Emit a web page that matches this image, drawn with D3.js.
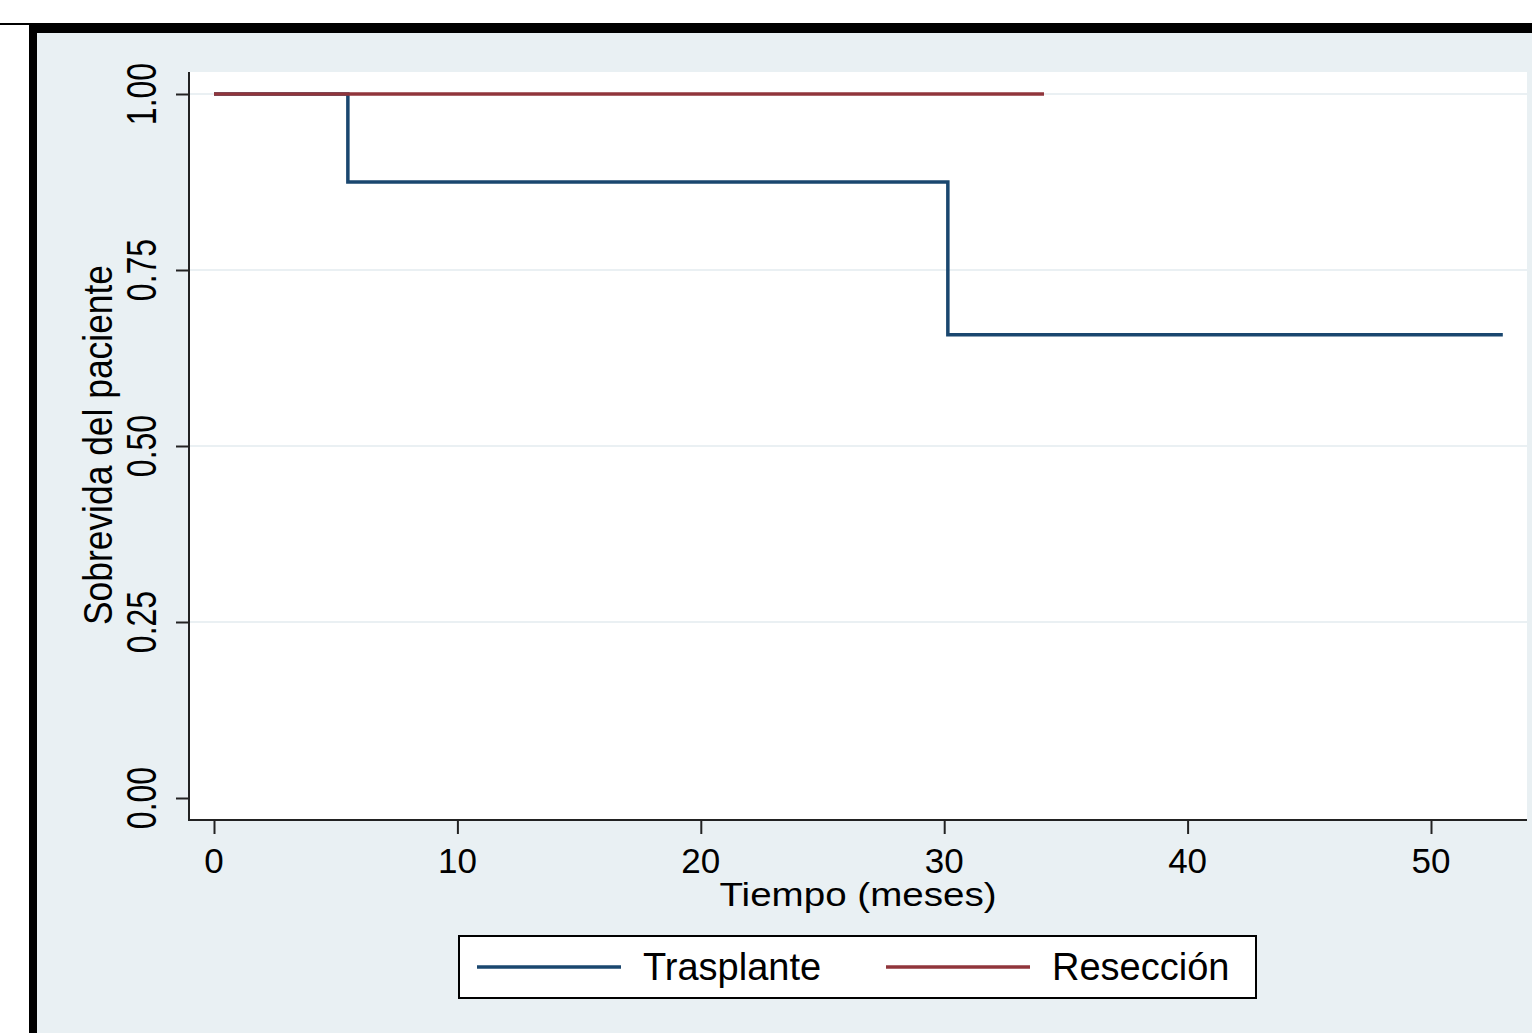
<!DOCTYPE html>
<html>
<head>
<meta charset="utf-8">
<script src="https://cdn.jsdelivr.net/npm/d3@7.9.0/dist/d3.min.js"></script>
<style>
  body { margin: 0; background: #fff; }
  svg text { font-family: "Liberation Sans", Arial, sans-serif; fill: #000; }
</style>
</head>
<body>
<div id="chart"></div>
<script>
// Kaplan-Meier steps
const trasplanteTime = [0, 5.5, 30.15, 52.95];
const trasplanteSurv = [1, 0.875, 0.658, 0.658];
const reseccionTime = [0, 34.1];
const reseccionSurv = [1, 1];

const xTicks = [0, 10, 20, 30, 40, 50];
const yTicks = [0, 0.25, 0.5, 0.75, 1];
const yTickLabels = ["0.00", "0.25", "0.50", "0.75", "1.00"];
const seriesNames = ["Trasplante", "Resección"];
const seriesColors = ["#1a476f", "#90353b"];

const width = 1532, height = 1033;
const plot = { left: 189, right: 1527, top: 72, bottom: 820 };

const x = d3.scaleLinear().domain([0, 50]).range([214, 1431]);
const y = d3.scaleLinear().domain([0, 1]).range([798, 94]);

const svg = d3.select("#chart").append("svg")
  .attr("width", width)
  .attr("height", height);

// outer frame
svg.append("rect").attr("x", 0).attr("y", 0).attr("width", width).attr("height", height).attr("fill", "#fff");
svg.append("rect").attr("x", 0).attr("y", 23).attr("width", width).attr("height", 2).attr("fill", "#000");
svg.append("rect").attr("x", 29).attr("y", 25).attr("width", width - 29).attr("height", height - 25).attr("fill", "#000");
svg.append("rect").attr("x", 37).attr("y", 33).attr("width", width - 37).attr("height", height - 33).attr("fill", "#e9f0f3");

// plot region
svg.append("rect")
  .attr("x", plot.left).attr("y", plot.top)
  .attr("width", plot.right - plot.left).attr("height", plot.bottom - plot.top)
  .attr("fill", "#fff");

// gridlines
svg.append("g").selectAll("line")
  .data(yTicks.filter(d => d > 0))
  .join("line")
  .attr("x1", plot.left).attr("x2", plot.right)
  .attr("y1", d => y(d)).attr("y2", d => y(d))
  .attr("stroke", "#eaf0f3")
  .attr("stroke-width", 2);

// axes
const yAxis = svg.append("g")
  .attr("transform", `translate(${plot.left},0)`)
  .call(d3.axisLeft(y).tickValues(yTicks).tickSize(13).tickFormat(""));
const xAxis = svg.append("g")
  .attr("transform", `translate(0,${plot.bottom})`)
  .call(d3.axisBottom(x).tickValues(xTicks).tickSize(14).tickFormat(""));
[yAxis, xAxis].forEach(a => {
  a.select(".domain").remove();
  a.selectAll(".tick line").attr("stroke", "#222").attr("stroke-width", 2);
});
svg.append("line")
  .attr("x1", plot.left).attr("x2", plot.left)
  .attr("y1", plot.top).attr("y2", plot.bottom + 1)
  .attr("stroke", "#222").attr("stroke-width", 2);
svg.append("line")
  .attr("x1", plot.left).attr("x2", plot.right)
  .attr("y1", plot.bottom).attr("y2", plot.bottom)
  .attr("stroke", "#222").attr("stroke-width", 2);

// tick labels
svg.append("g").selectAll("text")
  .data(xTicks)
  .join("text")
  .attr("x", d => x(d))
  .attr("y", 873)
  .attr("text-anchor", "middle")
  .style("font-size", "35px")
  .text(d => d);

svg.append("g").selectAll("text")
  .data(yTicks)
  .join("text")
  .attr("transform", d => `translate(156,${y(d)}) scale(1.3,1) rotate(-90)`)
  .attr("text-anchor", "middle")
  .style("font-size", "32px")
  .text((d, i) => yTickLabels[i]);

// axis titles
svg.append("text")
  .attr("x", 858).attr("y", 906)
  .attr("text-anchor", "middle")
  .attr("textLength", 277)
  .attr("lengthAdjust", "spacingAndGlyphs")
  .style("font-size", "33px")
  .text("Tiempo (meses)");

svg.append("text")
  .attr("transform", `translate(112,${(plot.top + plot.bottom) / 2 - 1}) scale(1.15,1) rotate(-90)`)
  .attr("text-anchor", "middle")
  .attr("textLength", 360)
  .attr("lengthAdjust", "spacingAndGlyphs")
  .style("font-size", "35px")
  .text("Sobrevida del paciente");

// survival curves
const line = d3.line()
  .x(d => x(d[0]))
  .y(d => y(d[1]))
  .curve(d3.curveStepAfter);

const series = [
  d3.zip(trasplanteTime, trasplanteSurv),
  d3.zip(reseccionTime, reseccionSurv)
];

// Trasplante first, Resección drawn on top where they overlap
[0, 1].forEach(i => {
  svg.append("path")
    .datum(series[i])
    .attr("d", line)
    .attr("fill", "none")
    .attr("stroke", seriesColors[i])
    .attr("stroke-width", 3.5);
});

// legend
svg.append("rect")
  .attr("x", 459).attr("y", 936)
  .attr("width", 797).attr("height", 62)
  .attr("fill", "#fff")
  .attr("stroke", "#000")
  .attr("stroke-width", 2);

const legendPos = [477, 886];
seriesNames.forEach((name, i) => {
  svg.append("line")
    .attr("x1", legendPos[i]).attr("x2", legendPos[i] + 144)
    .attr("y1", 967).attr("y2", 967)
    .attr("stroke", seriesColors[i])
    .attr("stroke-width", 3.5);
  svg.append("text")
    .attr("x", legendPos[i] + 166)
    .attr("y", 980)
    .style("font-size", "38px")
    .text(name);
});
</script>
</body>
</html>
